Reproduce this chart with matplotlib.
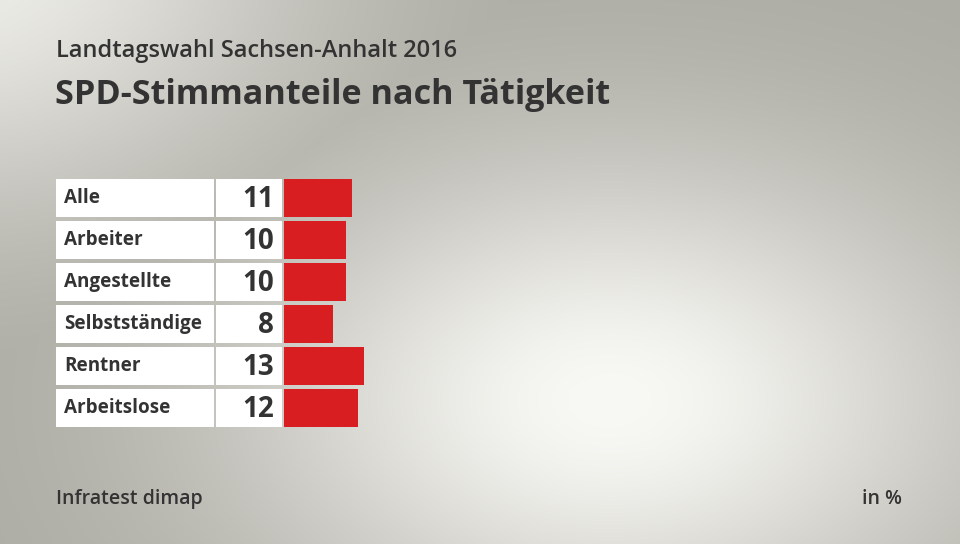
import numpy as np
import matplotlib
matplotlib.use("Agg")
from matplotlib import pyplot as plt

plt.rcParams['font.family'] = ['Open Sans', 'DejaVu Sans']

# data
categories = ['Alle', 'Arbeiter', 'Angestellte', 'Selbstständige', 'Rentner', 'Arbeitslose']
values = [11, 10, 10, 8, 13, 12]

title = 'SPD-Stimmanteile nach Tätigkeit'
subtitle = 'Landtagswahl Sachsen-Anhalt 2016'
source = 'Infratest dimap'
unit = 'in %'

W, H = 960, 544
fig = plt.figure(figsize=(W / 100, H / 100), dpi=100)

# background gradient
bg = fig.add_axes([0, 0, 1, 1])
yy, xx = np.mgrid[0:H, 0:W]
g1 = np.exp(-((xx - 610) / 370.0) ** 2 - ((yy - 400) / 240.0) ** 2)
g2 = 0.85 * np.exp(-((xx + 40) / 340.0) ** 2 - ((yy + 40) / 250.0) ** 2)
g = np.maximum(g1, g2)
dark = np.array([0xac, 0xab, 0xa3]) / 255.0
light = np.array([0xf8, 0xf8, 0xf4]) / 255.0
img = dark[None, None, :] + (light - dark)[None, None, :] * g[:, :, None]
bg.imshow(img, extent=[0, W, H, 0], aspect='auto')
bg.set_xlim(0, W)
bg.set_ylim(H, 0)
bg.axis('off')

txt = '#333333'
bg.text(56, 57, subtitle, fontsize=17, fontweight='semibold', color=txt, va='baseline')
bg.text(55, 104, title, fontsize=24.6, fontweight='bold', color=txt, va='baseline')
bg.text(56, 504, source, fontsize=14, fontweight='semibold', color=txt, va='baseline')
bg.text(902, 504, unit, fontsize=14, fontweight='semibold', color=txt, va='baseline', ha='right')

# bar table: 1 unit = s px
s = 6.15
x_left_px, x_zero_px, x_right_px = 56, 284, 960
top_px, row_px, bar_px = 177, 42, 38
n = len(categories)
ax = fig.add_axes([x_left_px / W, 1 - (top_px + n * row_px) / H,
                   (x_right_px - x_left_px) / W, n * row_px / H])
ax.set_xlim(-(x_zero_px - x_left_px) / s, (x_right_px - x_zero_px) / s)
ax.set_ylim(n - 0.5, -0.5)
ax.axis('off')

ypos = np.arange(n)
h = bar_px / row_px
lab_left = -(x_zero_px - x_left_px) / s
lab_w = (214 - x_left_px) / s
val_left = -(x_zero_px - 216) / s
val_w = (282 - 216) / s
ax.barh(ypos, [lab_w] * n, left=lab_left, height=h, color='white')
ax.barh(ypos, [val_w] * n, left=val_left, height=h, color='white')
ax.barh(ypos, values, left=0, height=h, color='#d81e20')

for i, (c, v) in enumerate(zip(categories, values)):
    ax.text(lab_left + 8 / s, i, c, fontsize=13.6, fontweight='bold', color=txt, va='center')
    ax.text(-10 / s, i + 0.03, str(v), fontsize=20, fontweight='bold', color=txt,
            va='center', ha='right')

fig.savefig('out.png', dpi=100)
